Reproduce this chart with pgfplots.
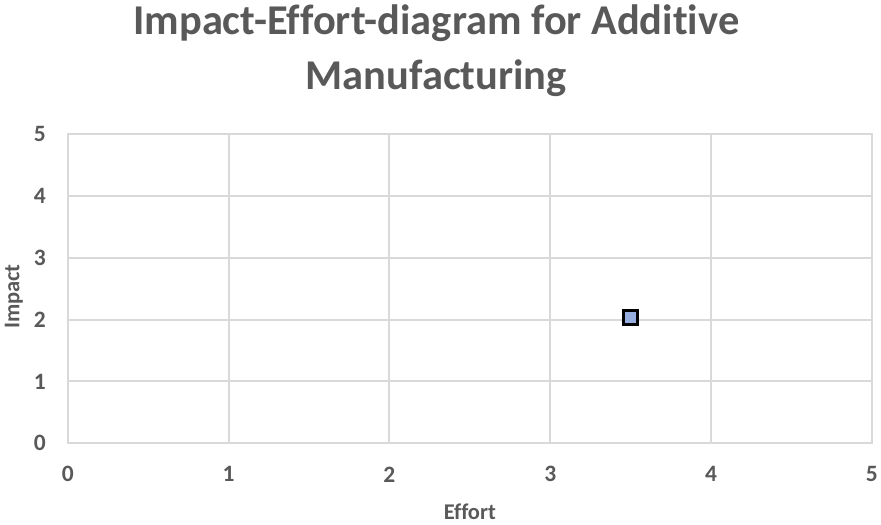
\documentclass[border=0pt]{standalone}
\usepackage{fontspec}
\setmainfont[Ligatures=NoCommon]{Carlito}
\usepackage{pgfplots}
\pgfplotsset{compat=1.18}
\definecolor{txt}{HTML}{595959}
\definecolor{gridc}{HTML}{D9D9D9}
\definecolor{mk}{HTML}{95AEDD}
\begin{document}
\begin{tikzpicture}
\begin{axis}[
  at={(0,0)}, anchor=south west,
  scale only axis, width=805pt, height=310pt,
  xmin=0, xmax=5, ymin=0, ymax=5,
  xtick={0,1,2,3,4,5}, ytick={0,1,2,3,4,5},
  grid=major,
  major grid style={gridc, line width=2pt},
  axis line style={gridc, line width=2pt},
  tick style={draw=none},
  /pgf/number format/assume math mode=true,
  tick label style={font=\fontsize{23.5}{27}\selectfont\bfseries, text=txt},
  yticklabel style={anchor=center, xshift=-28pt},
  xticklabel style={anchor=center, yshift=-31pt},
  xlabel={Effort}, ylabel={Impact},
  label style={font=\fontsize{22.5}{26}\selectfont\bfseries, text=txt},
  xlabel style={at={(axis description cs:0.5,-0.245)}, anchor=base},
  ylabel style={at={(axis description cs:-0.0671,0.474)}, anchor=center},
]
\addplot[only marks, mark=square*, mark size=7pt,
  mark options={fill=mk, draw=black, line width=2.6pt}]
  coordinates {(3.5,2.03)};
\end{axis}
\node[anchor=base, text=txt, font=\fontsize{42.5}{50}\selectfont\bfseries] at (369pt,409pt) {Impact-Effort-diagram for Additive};
\node[anchor=base, text=txt, font=\fontsize{42.5}{50}\selectfont\bfseries] at (369pt,354pt) {Manufacturing};
\path (-68pt,-81pt) rectangle (813pt,444pt);
\end{tikzpicture}
\end{document}
